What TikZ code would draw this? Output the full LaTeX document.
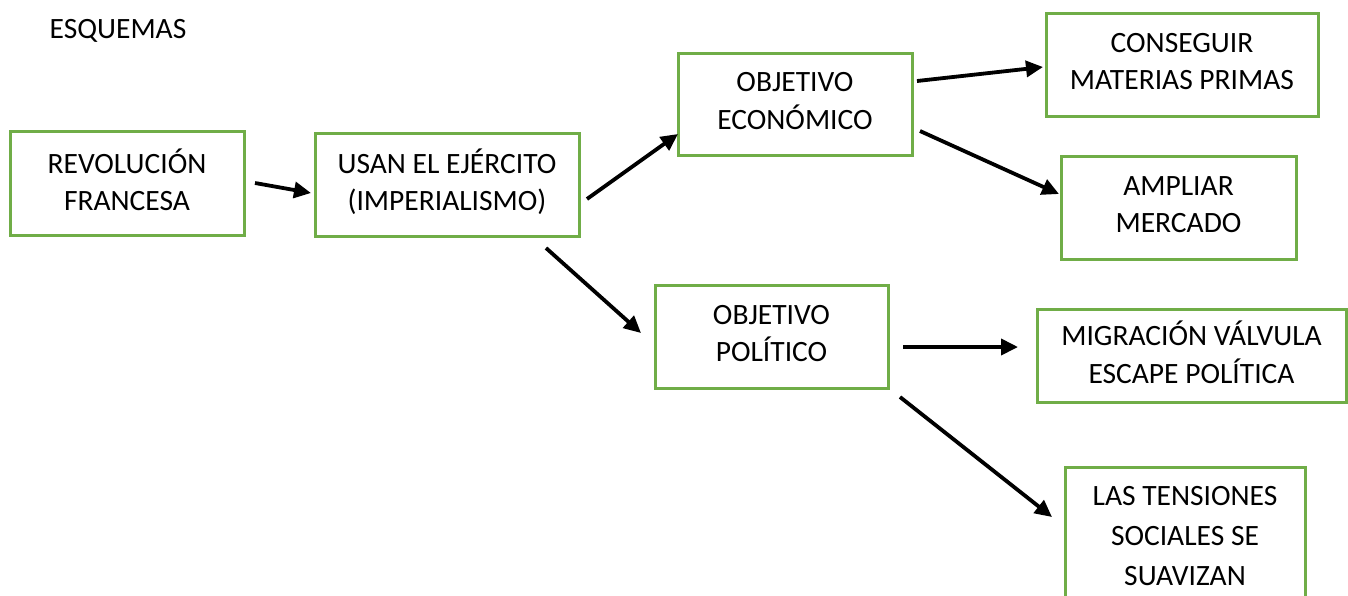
\documentclass[tikz,border=0pt]{standalone}
\usepackage{fontspec}
\setmainfont{Carlito}
\usetikzlibrary{arrows.meta}
\definecolor{boxgreen}{HTML}{70AD47}
\tikzset{
  box/.style={draw=boxgreen, line width=3pt, fill=white, inner sep=0pt},
  boxtext/.style={align=center, inner sep=0pt, font=\fontsize{29.5}{37.5}\selectfont},
  conn/.style={line width=3.8pt, -{Triangle[length=17pt,width=16pt]}}
}
\newcommand{\mybox}[6][]{%
  \node[box, minimum width=#4pt, minimum height=#5pt] (#2) at #3 {};
  \node[boxtext, yshift=3pt, #1] (#2-t) at (#2) {#6};
}
\begin{document}
\begin{tikzpicture}[x=1pt,y=-1pt]
\useasboundingbox (0,0) rectangle (1348,595);
\clip (0,0) rectangle (1348,595);
\fill[white] (0,0) rectangle (1348,595);
\node[font=\fontsize{29.5}{35}\selectfont, inner sep=0pt] (title) at (118,31) {ESQUEMAS};
\mybox{rev}{(127,183)}{234}{104}{REVOLUCIÓN\\FRANCESA}
\mybox{usan}{(447,184.5)}{264}{103}{USAN EL EJÉRCITO\\(IMPERIALISMO)}
\mybox{eco}{(795,104)}{234}{102}{OBJETIVO\\ECONÓMICO}
\mybox{cons}{(1182,64.5)}{272}{103}{CONSEGUIR\\MATERIAS PRIMAS}
\mybox{amp}{(1178.5,207.5)}{235}{103}{AMPLIAR\\MERCADO}
\mybox{pol}{(771.5,336.5)}{233}{103}{OBJETIVO\\POLÍTICO}
\mybox{mig}{(1191.5,355.5)}{309}{93}{MIGRACIÓN VÁLVULA\\ESCAPE POLÍTICA}
\mybox[font=\fontsize{29.5}{40}\selectfont, yshift=-2pt]{ten}{(1185,537)}{240}{140}{LAS TENSIONES\\SOCIALES SE\\SUAVIZAN}
% connector end points
\coordinate (a1s) at (255,183); \coordinate (a1e) at (311,193);
\coordinate (a2s) at (587,199); \coordinate (a2e) at (678,134);
\coordinate (a3s) at (917,81);  \coordinate (a3e) at (1043,67);
\coordinate (a4s) at (920,131); \coordinate (a4e) at (1059,194);
\coordinate (a5s) at (546,248); \coordinate (a5e) at (641,333);
\coordinate (a6s) at (903,347); \coordinate (a6e) at (1018,347);
\coordinate (a7s) at (900,397); \coordinate (a7e) at (1052,517);
\draw[conn] (a1s) -- (a1e);
\draw[conn] (a2s) -- (a2e);
\draw[conn] (a3s) -- (a3e);
\draw[conn] (a4s) -- (a4e);
\draw[conn] (a5s) -- (a5e);
\draw[conn] (a6s) -- (a6e);
\draw[conn] (a7s) -- (a7e);
\end{tikzpicture}
\end{document}
